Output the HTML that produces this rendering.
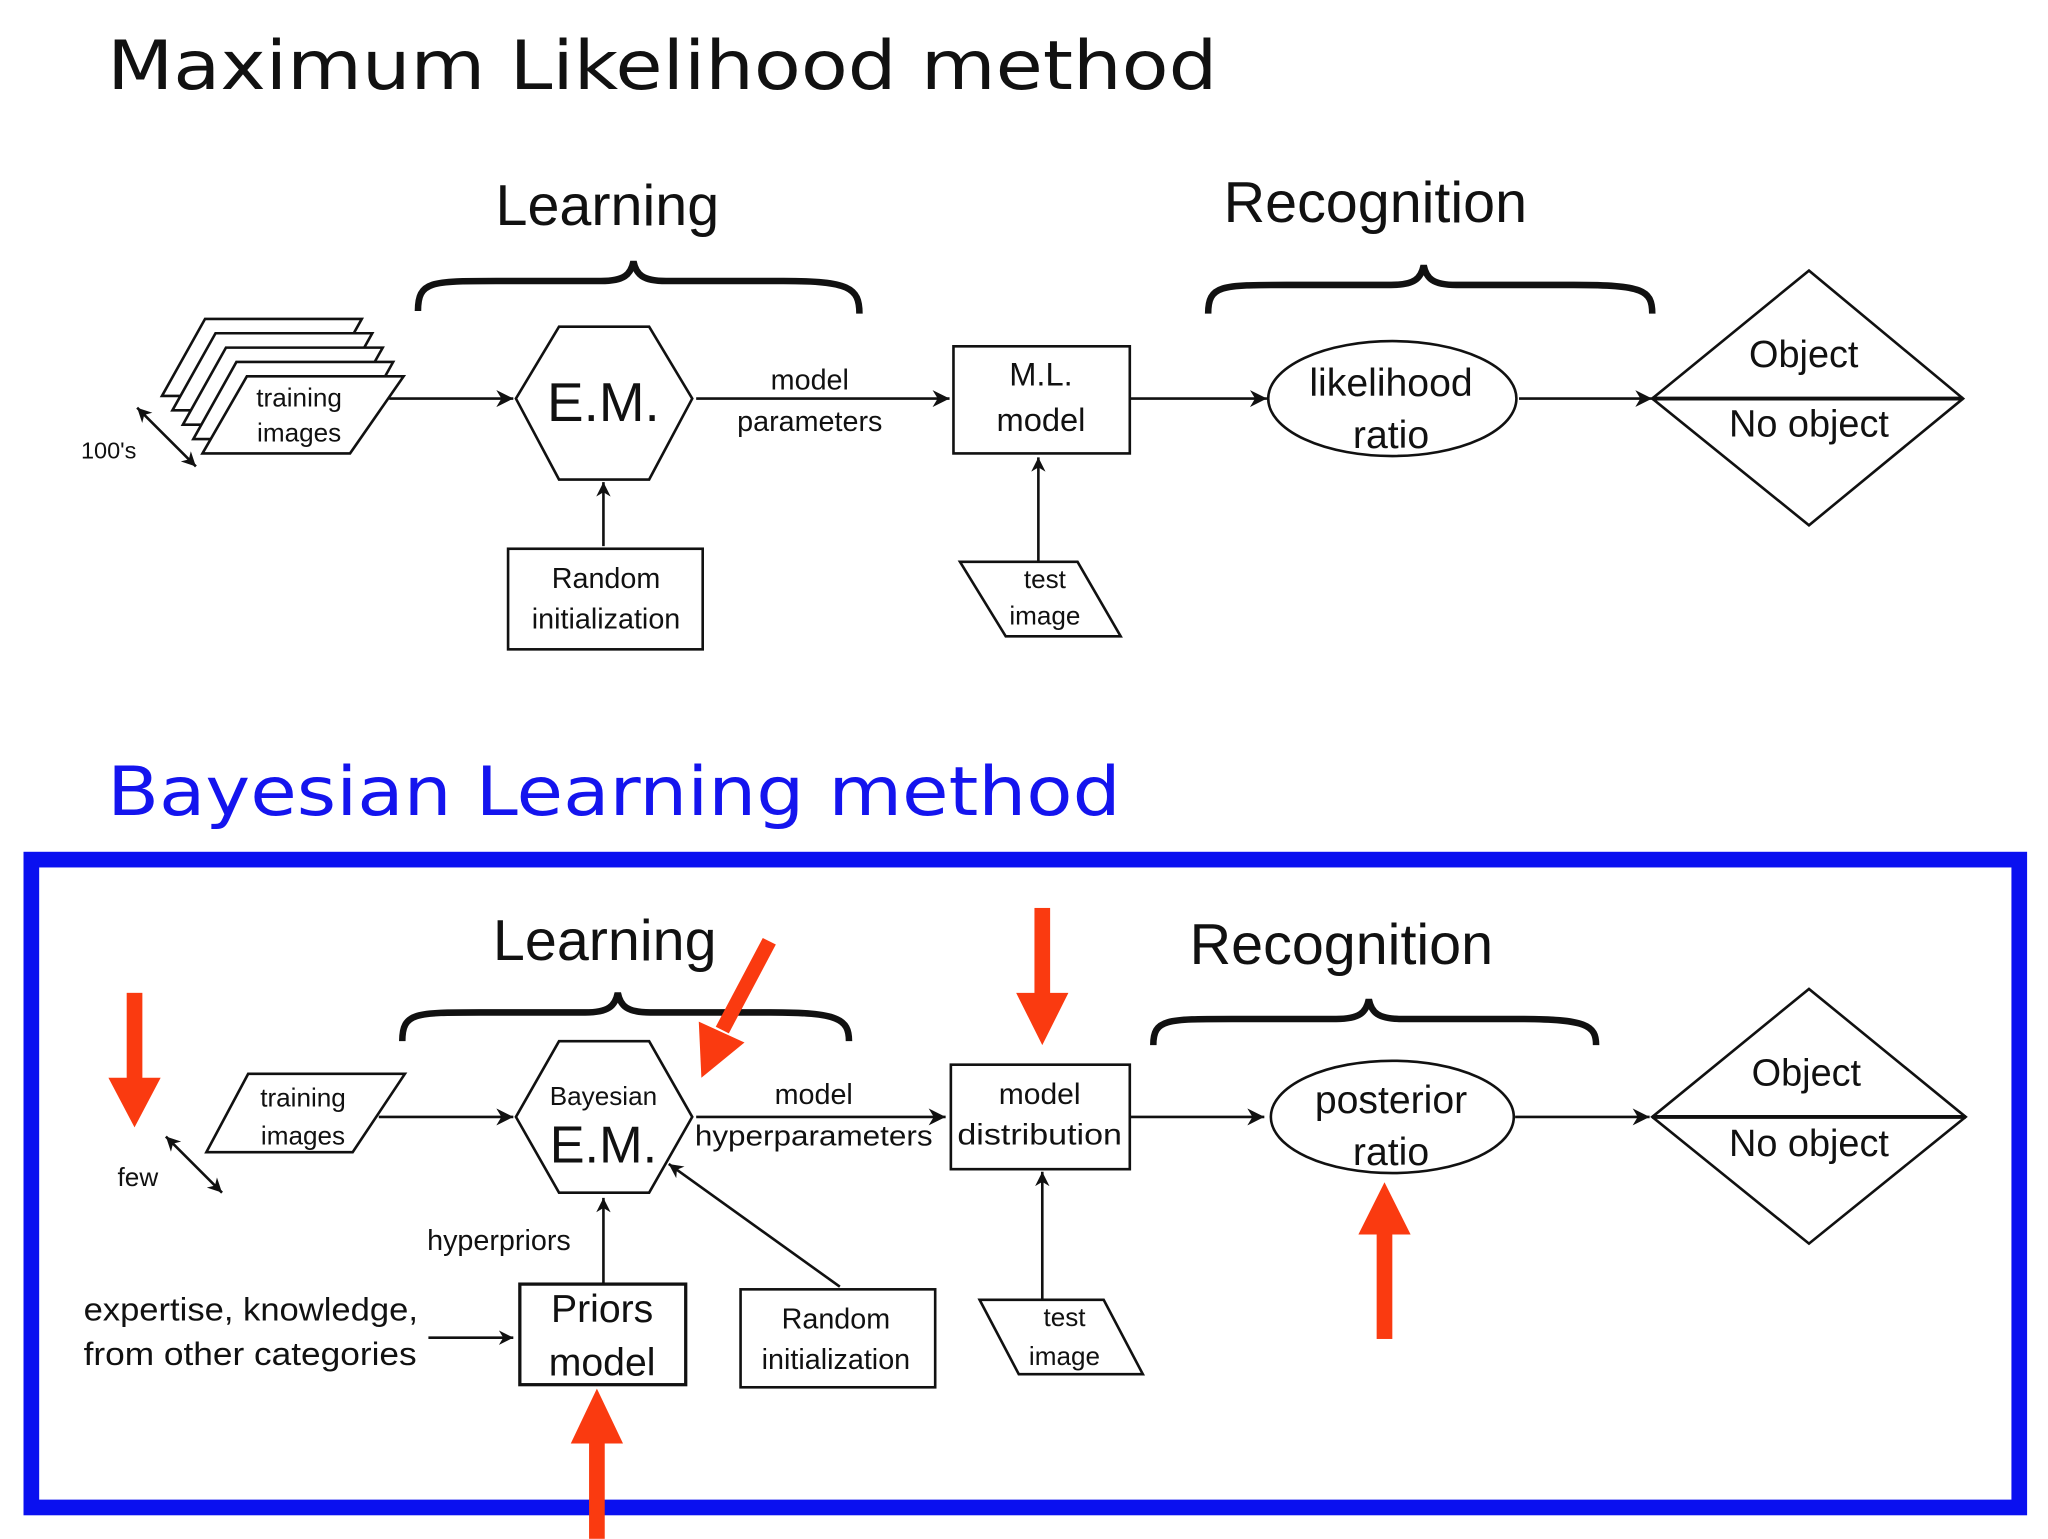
<!DOCTYPE html>
<html><head><meta charset="utf-8"><style>
html,body{margin:0;padding:0;background:#fff;}
svg{display:block;}
text{font-family:"Liberation Sans","DejaVu Sans",sans-serif;fill:#111;}
.t{font-family:"DejaVu Sans","Liberation Sans",sans-serif;}
</style></head><body>
<svg width="2048" height="1539" viewBox="0 0 1568 1178" xmlns="http://www.w3.org/2000/svg">
<defs>
<marker id="a" viewBox="0 0 10 10" refX="10" refY="5" markerWidth="11" markerHeight="11" orient="auto-start-reverse" markerUnits="userSpaceOnUse"><path d="M0,0 L10,5 L0,10 L3,5 z" fill="#111"/></marker>
<marker id="b" viewBox="0 0 10 10" refX="10" refY="5" markerWidth="13" markerHeight="13" orient="auto-start-reverse" markerUnits="userSpaceOnUse"><path d="M0,0 L10,5 L0,10 L3,5 z" fill="#111"/></marker>
</defs>
<rect width="1568" height="1178" fill="#fff"/>
<g fill="none" stroke="#111" stroke-width="2">
<path d="M320,238 C320,215 330,215 380,215 L460,215 C478,215 483,210 485,200 C487,210 492,215 510,215 L600,215 C650,215 658,220 658,240" stroke-width="5"/>
<path d="M925,240 C925,218 935,218 985,218 L1065,218 C1083,218 1088,213 1090,203 C1092,213 1097,218 1115,218 L1205,218 C1258,218 1265,222 1265,240" stroke-width="5"/>
<g fill="#fff">
<polygon points="157,244 277,244 244,303 124,303"/>
<polygon points="165,255 285,255 252,314 132,314"/>
<polygon points="173,266 293,266 260,325 140,325"/>
<polygon points="181,277 301,277 268,336 148,336"/>
<polygon points="189,288 309,288 268,347 155,347"/>
</g>
<line x1="105" y1="312" x2="150" y2="357" marker-start="url(#a)" marker-end="url(#a)"/>
<line x1="298" y1="305" x2="393" y2="305" marker-end="url(#b)"/>
<polygon points="395,305 428,250 497,250 530,305 497,367 428,367"/>
<line x1="533" y1="305" x2="727" y2="305" marker-end="url(#b)"/>
<rect x="730" y="265" width="135" height="82"/>
<line x1="865" y1="305" x2="970" y2="305" marker-end="url(#b)"/>
<ellipse cx="1066" cy="305" rx="95" ry="44"/>
<line x1="1163" y1="305" x2="1265" y2="305" marker-end="url(#b)"/>
<polygon points="1265,305 1385,207 1503,305 1385,402"/>
<line x1="1265" y1="305" x2="1503" y2="305" stroke-width="3"/>
<rect x="389" y="420" width="149" height="77"/>
<line x1="462" y1="418" x2="462" y2="369" marker-end="url(#a)"/>
<polygon points="735,430 825,430 858,487 770,487"/>
<line x1="795" y1="430" x2="795" y2="350" marker-end="url(#a)"/>
<path d="M308,797 C308,775 318,775 368,775 L448,775 C466,775 471,770 473,760 C475,770 480,775 498,775 L590,775 C642,775 650,780 650,797" stroke-width="5"/>
<path d="M883,800 C883,780 893,780 943,780 L1023,780 C1041,780 1046,775 1048,765 C1050,775 1055,780 1073,780 L1163,780 C1215,780 1222,785 1222,800" stroke-width="5"/>
<polygon points="190,822 310,822 270,882 158,882"/>
<line x1="127" y1="870" x2="170" y2="913" marker-start="url(#a)" marker-end="url(#a)"/>
<line x1="290" y1="855" x2="393" y2="855" marker-end="url(#b)"/>
<polygon points="395,855 428,797 497,797 530,855 497,913 428,913"/>
<line x1="533" y1="855" x2="724" y2="855" marker-end="url(#b)"/>
<rect x="728" y="815" width="137" height="80"/>
<line x1="865" y1="855" x2="968" y2="855" marker-end="url(#b)"/>
<ellipse cx="1066" cy="855" rx="93" ry="43"/>
<line x1="1160" y1="855" x2="1263" y2="855" marker-end="url(#b)"/>
<polygon points="1265,855 1385,757 1505,855 1385,952"/>
<line x1="1265" y1="855" x2="1505" y2="855" stroke-width="3"/>
<line x1="462" y1="982" x2="462" y2="917" marker-end="url(#a)"/>
<rect x="398" y="983" width="127" height="77" stroke-width="2.5"/>
<line x1="328" y1="1024" x2="393" y2="1024" marker-end="url(#a)"/>
<rect x="567" y="987" width="149" height="75"/>
<line x1="643" y1="985" x2="512" y2="891" marker-end="url(#a)"/>
<polygon points="750,995 845,995 875,1052 780,1052"/>
<line x1="798" y1="995" x2="798" y2="897" marker-end="url(#a)"/>
</g>
<rect x="24" y="658" width="1522" height="496" fill="none" stroke="#0a10f0" stroke-width="12"/>
<g fill="#fa3a10">
<rect x="97" y="760" width="12" height="66"/><polygon points="83,825 123,825 103,863"/>
<rect x="792" y="695" width="12" height="66"/><polygon points="778,760 818,760 798,800"/>
<rect x="1054" y="944" width="12" height="81"/><polygon points="1040,945 1080,945 1060,905"/>
<rect x="451" y="1104" width="12" height="74"/><polygon points="437,1105 477,1105 457,1063"/>
<polygon points="584,718 594,723 558,791 548,786"/><polygon points="537,825 535,782 570,798"/>
</g>
<text class="t" x="82" y="68" font-size="52" textLength="850" lengthAdjust="spacingAndGlyphs">Maximum Likelihood method</text>
<text class="t" x="82" y="624" font-size="52" textLength="776" lengthAdjust="spacingAndGlyphs" style="fill:#1414ee">Bayesian Learning method</text>
<g text-anchor="middle">
<text x="465" y="172" font-size="44">Learning</text>
<text x="1053" y="170" font-size="44">Recognition</text>
<text x="229" y="311" font-size="20">training</text>
<text x="229" y="338" font-size="20">images</text>
<text x="462" y="322" font-size="42">E.M.</text>
<text x="620" y="298" font-size="22">model</text>
<text x="620" y="330" font-size="22">parameters</text>
<text x="797" y="295" font-size="25">M.L.</text>
<text x="797" y="330" font-size="25">model</text>
<text x="1065" y="303" font-size="30">likelihood</text>
<text x="1065" y="343" font-size="30">ratio</text>
<text x="1381" y="281" font-size="29">Object</text>
<text x="1385" y="334" font-size="29">No object</text>
<text x="464" y="450" font-size="22">Random</text>
<text x="464" y="481" font-size="22">initialization</text>
<text x="800" y="450" font-size="20">test</text>
<text x="800" y="478" font-size="20">image</text>
<text x="463" y="735" font-size="44">Learning</text>
<text x="1027" y="738" font-size="44">Recognition</text>
<text x="232" y="847" font-size="20">training</text>
<text x="232" y="876" font-size="20">images</text>
<text x="462" y="846" font-size="20">Bayesian</text>
<text x="462" y="890" font-size="40">E.M.</text>
<text x="623" y="845" font-size="22">model</text>
<text x="623" y="877" font-size="22" textLength="182" lengthAdjust="spacingAndGlyphs">hyperparameters</text>
<text x="796" y="845" font-size="23">model</text>
<text x="796" y="876" font-size="23" textLength="126" lengthAdjust="spacingAndGlyphs">distribution</text>
<text x="1065" y="852" font-size="30">posterior</text>
<text x="1065" y="892" font-size="30">ratio</text>
<text x="1383" y="831" font-size="29">Object</text>
<text x="1385" y="885" font-size="29">No object</text>
<text x="461" y="1012" font-size="30">Priors</text>
<text x="461" y="1053" font-size="30">model</text>
<text x="640" y="1017" font-size="22">Random</text>
<text x="640" y="1048" font-size="22">initialization</text>
<text x="815" y="1015" font-size="20">test</text>
<text x="815" y="1045" font-size="20">image</text>
</g>
<text x="62" y="351" font-size="18">100's</text>
<text x="90" y="908" font-size="20">few</text>
<text x="327" y="957" font-size="22">hyperpriors</text>
<text x="64" y="1011" font-size="25" textLength="256" lengthAdjust="spacingAndGlyphs">expertise, knowledge,</text>
<text x="64" y="1045" font-size="25" textLength="255" lengthAdjust="spacingAndGlyphs">from other categories</text>
</svg>
</body></html>
